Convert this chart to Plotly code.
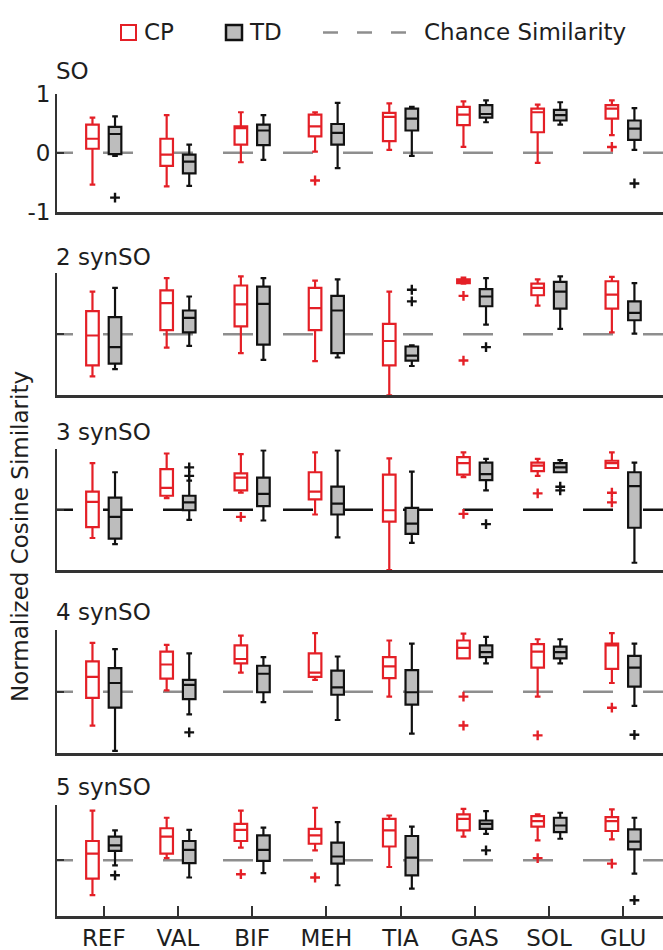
import plotly.graph_objects as go

# ---------------- data ----------------
muscles = ["REF", "VAL", "BIF", "MEH", "TIA", "GAS", "SOL", "GLU"]
panel_titles = ["SO", "2 synSO", "3 synSO", "4 synSO", "5 synSO"]
groups = ["CP", "TD"]

# each row: [lower whisker, Q1, median, Q3, upper whisker] for one muscle
so_cp = [[-0.54, 0.07, 0.24, 0.48, 0.60], [-0.57, -0.22, -0.03, 0.24, 0.64],
         [-0.16, 0.14, 0.42, 0.45, 0.69], [0.02, 0.28, 0.45, 0.65, 0.69],
         [0.05, 0.20, 0.61, 0.68, 0.84], [0.10, 0.47, 0.65, 0.78, 0.875],
         [-0.17, 0.35, 0.69, 0.75, 0.82], [0.30, 0.58, 0.75, 0.81, 0.89]]
so_td = [[-0.05, -0.02, 0.32, 0.44, 0.62], [-0.56, -0.35, -0.15, -0.03, 0.14],
         [-0.12, 0.13, 0.38, 0.48, 0.64], [-0.26, 0.14, 0.34, 0.49, 0.85],
         [-0.05, 0.38, 0.58, 0.75, 0.78], [0.52, 0.60, 0.66, 0.81, 0.89],
         [0.48, 0.55, 0.64, 0.73, 0.86], [0.05, 0.22, 0.41, 0.55, 0.76]]
syn2_cp = [[-0.69, -0.51, -0.02, 0.38, 0.70], [-0.22, 0.07, 0.51, 0.72, 0.92],
           [-0.31, 0.13, 0.49, 0.80, 0.95], [-0.44, 0.07, 0.43, 0.76, 0.88],
           [-1.00, -0.51, -0.11, 0.17, 0.70], [0.83, 0.84, 0.87, 0.90, 0.93],
           [0.47, 0.64, 0.76, 0.83, 0.90], [0.03, 0.42, 0.65, 0.87, 0.94]]
syn2_td = [[-0.57, -0.48, -0.21, 0.28, 0.76], [-0.19, 0.03, 0.27, 0.39, 0.62],
           [-0.42, -0.17, 0.50, 0.78, 0.92], [-0.38, -0.31, 0.39, 0.63, 0.90],
           [-0.52, -0.43, -0.35, -0.20, -0.18], [0.16, 0.46, 0.62, 0.74, 0.92],
           [0.09, 0.42, 0.70, 0.86, 0.95], [0.01, 0.23, 0.35, 0.54, 0.84]]
syn3_cp = [[-0.47, -0.29, 0.13, 0.30, 0.77], [0.19, 0.23, 0.36, 0.67, 0.93],
           [0.28, 0.32, 0.53, 0.60, 0.92], [-0.08, 0.17, 0.30, 0.62, 0.95],
           [-1.00, -0.20, -0.01, 0.58, 0.85], [0.54, 0.58, 0.77, 0.87, 0.95],
           [0.56, 0.64, 0.73, 0.78, 0.84], [0.69, 0.69, 0.77, 0.81, 0.95]]
syn3_td = [[-0.57, -0.48, -0.12, 0.20, 0.62], [-0.17, -0.01, 0.12, 0.23, 0.48],
           [-0.18, 0.06, 0.26, 0.53, 0.98], [-0.46, -0.08, 0.10, 0.38, 0.98],
           [-0.55, -0.40, -0.23, 0.03, 0.63], [0.32, 0.49, 0.59, 0.78, 0.84],
           [0.62, 0.62, 0.70, 0.77, 0.82], [-0.88, -0.30, 0.39, 0.62, 0.78]]
syn4_cp = [[-0.55, -0.10, 0.24, 0.49, 0.79], [0.02, 0.21, 0.44, 0.65, 0.76],
           [0.31, 0.46, 0.53, 0.75, 0.91], [0.19, 0.24, 0.31, 0.62, 0.95],
           [-0.08, 0.22, 0.41, 0.56, 0.83], [0.54, 0.54, 0.71, 0.83, 0.94],
           [-0.08, 0.39, 0.65, 0.77, 0.85], [0.14, 0.37, 0.75, 0.78, 0.95]]
syn4_td = [[-0.96, -0.26, 0.14, 0.38, 0.69], [-0.37, -0.12, 0.11, 0.19, 0.62],
           [-0.17, -0.01, 0.29, 0.42, 0.56], [-0.46, -0.05, 0.07, 0.34, 0.57],
           [-0.68, -0.21, -0.01, 0.35, 0.78], [0.46, 0.56, 0.64, 0.75, 0.89],
           [0.46, 0.54, 0.64, 0.73, 0.85], [-0.23, 0.08, 0.39, 0.58, 0.78]]
syn5_cp = [[-0.63, -0.33, 0.12, 0.35, 0.90], [0.04, 0.12, 0.43, 0.58, 0.77],
           [0.23, 0.35, 0.55, 0.66, 0.90], [0.18, 0.30, 0.45, 0.57, 0.95],
           [-0.12, 0.25, 0.54, 0.75, 0.81], [0.43, 0.54, 0.75, 0.83, 0.93],
           [0.36, 0.61, 0.71, 0.80, 0.83], [0.38, 0.53, 0.71, 0.78, 0.92]]
syn5_td = [[-0.09, 0.17, 0.27, 0.43, 0.54], [-0.31, -0.05, 0.19, 0.35, 0.55],
           [-0.23, -0.01, 0.19, 0.45, 0.59], [-0.45, -0.06, 0.07, 0.32, 0.69],
           [-0.51, -0.27, 0.05, 0.44, 0.61], [0.48, 0.57, 0.66, 0.72, 0.89],
           [0.39, 0.51, 0.63, 0.77, 0.86], [-0.24, 0.20, 0.34, 0.56, 0.77]]

# outliers per muscle
so_cp_out = [[], [], [], [-0.47], [], [], [], [0.10]]
so_td_out = [[-0.76], [], [], [], [], [], [], [-0.52]]
syn2_cp_out = [[], [], [], [], [], [0.63, -0.43], [], []]
syn2_td_out = [[], [], [], [], [0.73, 0.54], [-0.21], [], []]
syn3_cp_out = [[], [], [-0.12], [], [], [-0.07], [0.27], [0.28, 0.12]]
syn3_td_out = [[], [0.70, 0.56], [], [], [], [-0.24], [0.38, 0.32], []]
syn4_cp_out = [[], [], [], [], [], [-0.08, -0.55], [-0.71], [-0.26]]
syn4_td_out = [[], [-0.66], [], [], [], [], [], [-0.70]]
syn5_cp_out = [[], [], [-0.25], [-0.31], [], [], [0.04], [-0.06]]
syn5_td_out = [[-0.27], [], [], [], [], [0.18], [], [-0.72]]

chance_level = 0.0
y_ticks = [-1, 0, 1]

cp_stats = [so_cp, syn2_cp, syn3_cp, syn4_cp, syn5_cp]
td_stats = [so_td, syn2_td, syn3_td, syn4_td, syn5_td]
cp_outs = [so_cp_out, syn2_cp_out, syn3_cp_out, syn4_cp_out, syn5_cp_out]
td_outs = [so_td_out, syn2_td_out, syn3_td_out, syn4_td_out, syn5_td_out]

# ---------------- style / layout ----------------
W, H = 663, 950
ML, MR, MT, MB = 57, 0, 94, 34
PW, PH = W - ML - MR, H - MT - MB
FONT = "DejaVu Sans"
FS = 23
RED = "#e41f26"
GRAY_FILL = "#bdbdbd"
DASH_GRAY = "#8e8e8e"
AX = "#333333"
TXT = "#1e1e1e"

UNIT = 74.2               # pixels per category
X0 = -0.63               # left edge of the axes in category units
XR = [X0, X0 + PW / UNIT]
OFF = 0.152
BOXW = 0.17


def px(x):
    return (x - ML) / PW


def py(y):
    return (H - MB - y) / PH


# panel top / bottom pixel rows
panel_px = [(94, 211.7), (273.3, 395.3), (449.3, 570), (630, 753.3), (805, 915.7)]
title_y = [71, 257, 432, 612, 787]
chance_colors = [DASH_GRAY, DASH_GRAY, "#111111", DASH_GRAY, DASH_GRAY]

fig = go.Figure()
xs = list(range(len(muscles)))

for k in range(5):
    xa = "x" if k == 0 else f"x{k+1}"
    ya = "y" if k == 0 else f"y{k+1}"
    for stats, outs, off, lc, fc in [
        (cp_stats[k], cp_outs[k], -OFF, RED, "white"),
        (td_stats[k], td_outs[k], OFF, "#111111", GRAY_FILL),
    ]:
        fig.add_trace(go.Box(
            x=[i + off for i in xs],
            lowerfence=[r[0] for r in stats],
            q1=[r[1] for r in stats],
            median=[r[2] for r in stats],
            q3=[r[3] for r in stats],
            upperfence=[r[4] for r in stats],
            orientation="v",
            width=BOXW, whiskerwidth=0.45,
            line=dict(color=lc, width=2.2), fillcolor=fc,
            boxpoints=False, showlegend=False, hoverinfo="skip",
            xaxis=xa, yaxis=ya,
        ))
        ox, oy = [], []
        for i, vals in enumerate(outs):
            for v in vals:
                ox.append(i + off)
                oy.append(v)
        if ox:
            fig.add_trace(go.Scatter(
                x=ox, y=oy, mode="markers",
                marker=dict(symbol="cross-thin", size=7,
                            line=dict(color=lc, width=2.4)),
                showlegend=False, hoverinfo="skip", xaxis=xa, yaxis=ya,
            ))
    # chance-similarity line
    fig.add_shape(type="line", xref=xa, yref=ya, layer="below",
                  x0=(43 - ML) / UNIT + X0, x1=XR[1] + 0.5,
                  y0=chance_level, y1=chance_level,
                  line=dict(color=chance_colors[k], width=2.5, dash="30px,30px"))

layout = dict(
    width=W, height=H,
    margin=dict(l=ML, r=MR, t=MT, b=MB),
    paper_bgcolor="white", plot_bgcolor="white",
    font=dict(family=FONT, size=FS, color=TXT),
    showlegend=False,
)
for k in range(5):
    top, bot = panel_px[k]
    sfx = "" if k == 0 else str(k + 1)
    yid = "y" if k == 0 else f"y{k+1}"
    xid = "x" if k == 0 else f"x{k+1}"
    last = (k == 4)
    layout["xaxis" + sfx] = dict(
        domain=[0, 1], anchor=yid, range=XR,
        tickvals=xs, ticktext=muscles,
        showticklabels=last, ticks="inside" if last else "",
        ticklen=10, tickwidth=2, tickcolor=AX,
        showline=True, linecolor=AX, linewidth=2.5,
        showgrid=False, zeroline=False,
        tickfont=dict(family=FONT, size=FS, color=TXT),
    )
    layout["yaxis" + sfx] = dict(
        domain=[py(bot), py(top)], anchor=xid, range=[-1, 1],
        tickvals=y_ticks, ticktext=[str(t) for t in y_ticks],
        showticklabels=(k == 0), ticks="inside", ticklen=7, tickwidth=2,
        tickcolor=AX, showline=True, linecolor=AX, linewidth=2,
        showgrid=False, zeroline=False,
        tickfont=dict(family=FONT, size=FS, color=TXT),
    )
fig.update_layout(**layout)

annotations = []
for k in range(5):
    annotations.append(dict(
        text=panel_titles[k], xref="paper", yref="paper",
        x=px(54), y=py(title_y[k]), xanchor="left", yanchor="middle",
        showarrow=False, font=dict(family=FONT, size=FS, color=TXT)))
annotations.append(dict(
    text="Normalized Cosine Similarity", xref="paper", yref="paper",
    x=px(20), y=py(537), xanchor="center", yanchor="middle", textangle=-90,
    showarrow=False, font=dict(family=FONT, size=FS, color=TXT)))

# legend (drawn manually)
shapes = [
    dict(type="rect", xref="paper", yref="paper", x0=px(121), x1=px(136),
         y0=py(40), y1=py(25), line=dict(color=RED, width=2), fillcolor="white"),
    dict(type="rect", xref="paper", yref="paper", x0=px(226), x1=px(242),
         y0=py(40), y1=py(25), line=dict(color="#111111", width=2.5),
         fillcolor=GRAY_FILL),
    dict(type="line", xref="paper", yref="paper", x0=px(323), x1=px(406),
         y0=py(32.5), y1=py(32.5),
         line=dict(color=DASH_GRAY, width=2.5, dash="15px,19px")),
]
for txt, xl in [(groups[0], 142), (groups[1], 247), ("Chance Similarity", 422)]:
    annotations.append(dict(
        text=txt, xref="paper", yref="paper", x=px(xl), y=py(32),
        xanchor="left", yanchor="middle", showarrow=False,
        font=dict(family=FONT, size=FS, color=TXT)))

for s in shapes:
    fig.add_shape(**s)
fig.update_layout(annotations=annotations)

fig.write_html("out.html")
